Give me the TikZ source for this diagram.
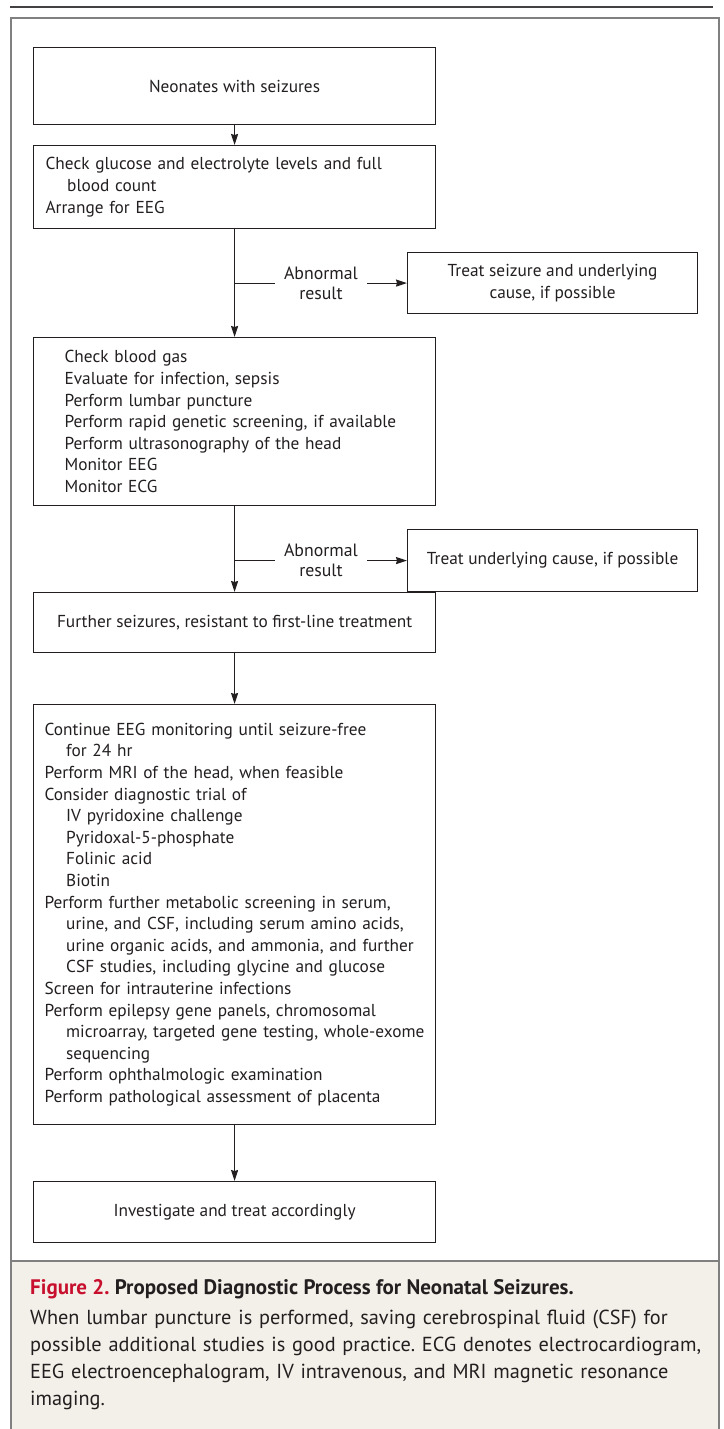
\documentclass[tikz,border=0pt]{standalone}
\usepackage{fontspec}
\setmainfont{PT Sans}
\usetikzlibrary{arrows.meta}
\definecolor{txt}{HTML}{231F20}
\definecolor{framegray}{HTML}{808080}
\definecolor{capbg}{HTML}{F3F0E9}
\definecolor{nejmred}{HTML}{C8102E}
\newcommand{\boxfont}{\fontsize{17.3}{21.6}\selectfont}
\newcommand{\capfont}{\fontsize{20.3}{26.8}\selectfont}
\newcommand{\ind}{\hspace*{1.25em}}
\frenchspacing
\hfuzz=50pt
\begin{document}
\begin{tikzpicture}[x=1pt,y=-1pt,
  box/.style={draw=txt, line width=1.15pt, minimum width=402pt, inner xsep=0pt, inner ysep=0pt,
    anchor=north west, font=\boxfont, text=txt, align=center},
  leftbox/.style={box, text width=402pt, align=left},
  sidebox/.style={box, minimum width=290pt},
  lab/.style={font=\fontsize{17.8}{20}\selectfont, text=txt, align=center, inner sep=0pt, minimum width=92pt},
  arr/.style={draw=txt, line width=1.15pt, -{Stealth[length=11pt,width=7pt,inset=1pt]}},
  conn/.style={draw=txt, line width=1.15pt}]
\useasboundingbox (0,0) rectangle (723,1429);
% caption background and frame
\fill[capbg] (11,1261) rectangle (719,1429);
\draw[framegray, line width=2pt] (11,1429) -- (11,18) -- (719,18) -- (719,1429);
\draw[framegray, line width=2pt] (11,1261) -- (719,1261);
\draw[txt!85, line width=2.5pt] (10,7) -- (713,7);
% boxes
\node[box, minimum height=77pt] (b1) at (33,47) {Neonates with seizures};
\node[leftbox, minimum height=83pt] (b2) at (33,145) {\leftskip=12pt Check glucose and electrolyte levels and full\\\ind blood count\\Arrange for EEG\par};
\node[sidebox, minimum height=61pt] (t1) at (407,252) {Treat seizure and underlying\\cause, if possible};
\node[leftbox, minimum height=168pt] (b3) at (33,337) {\leftskip=31pt Check blood gas\\Evaluate for infection, sepsis\\Perform lumbar puncture\\Perform rapid genetic screening, if available\\Perform ultrasonography of the head\\Monitor EEG\\Monitor ECG\par};
\node[sidebox, minimum height=62pt] (t2) at (407,529) {Treat underlying cause, if possible};
\node[box, minimum height=60pt] (b4) at (33,592) {Further seizures, resistant to first-line treatment};
\node[leftbox, minimum height=420pt] (b5) at (33,704) {\leftskip=11pt Continue EEG monitoring until seizure-free\\\ind for 24 hr\\Perform MRI of the head, when feasible\\Consider diagnostic trial of\\\ind IV pyridoxine challenge\\\ind Pyridoxal-5-phosphate\\\ind Folinic acid\\\ind Biotin\\Perform further metabolic screening in serum,\\\ind \mbox{urine, and CSF, including serum amino acids,}\\\ind \mbox{urine organic acids, and ammonia, and further}\\\ind CSF studies, including glycine and glucose\\Screen for intrauterine infections\\Perform epilepsy gene panels, chromosomal\\\ind \mbox{microarray, targeted gene testing, whole-exome}\\\ind sequencing\\Perform ophthalmologic examination\\Perform pathological assessment of placenta\par};
\node[box, minimum height=61pt] (b6) at (33,1181) {Investigate and treat accordingly};
% branch labels
\coordinate (cx) at (321,0);
\node[lab] (l1) at (t1.west -| cx) {Abnormal\\result};
\node[lab] (l2) at (t2.west -| cx) {Abnormal\\result};
\coordinate (k1) at (t1.west -| b2.south);
\coordinate (k2) at (t2.west -| b3.south);
% connectors
\draw[arr] (b1.south) -- (b2.north);
\draw[arr] (b2.south) -- (b3.north);
\draw[conn] (k1) -- (l1.west);
\draw[arr] (l1.east) -- (t1.west);
\draw[arr] (b3.south) -- (b4.north);
\draw[conn] (k2) -- (l2.west);
\draw[arr] (l2.east) -- (t2.west);
\draw[arr] (b4.south) -- (b5.north);
\draw[arr] (b5.south) -- (b6.north);
% caption
\node[anchor=west, inner sep=0pt, font=\fontsize{21}{27}\selectfont\bfseries, text=txt] (cap1) at (30,1289) {\textcolor{nejmred}{Figure 2.} Proposed Diagnostic Process for Neonatal Seizures.};
\node[anchor=north west, inner sep=0pt, text width=690pt, align=left, font=\capfont, text=txt] (cap2) at (30,1310) {When lumbar puncture is performed, saving cerebrospinal fluid (CSF) for\\possible additional studies is good practice. ECG denotes electrocardiogram,\\EEG electroencephalogram, IV intravenous, and MRI magnetic resonance\\imaging.};
\end{tikzpicture}
\end{document}
